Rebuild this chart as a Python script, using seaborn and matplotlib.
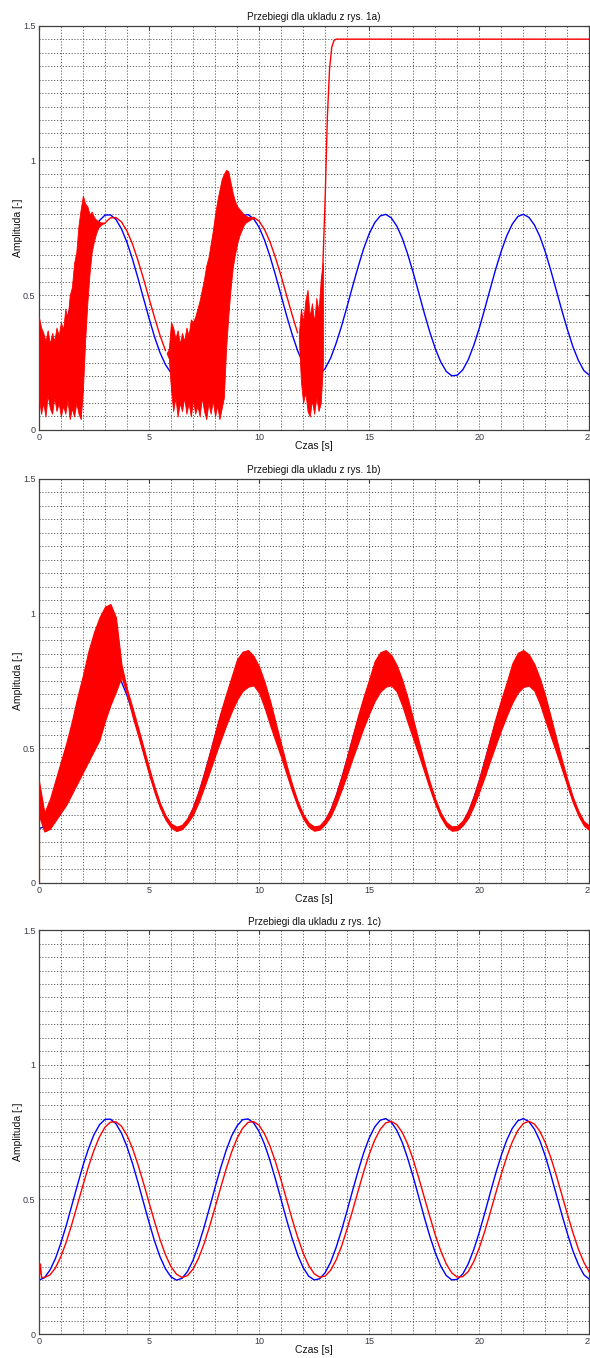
import numpy as np
import pandas as pd
import matplotlib
matplotlib.use("Agg")
import matplotlib.pyplot as plt
import seaborn as sns
from matplotlib.ticker import MultipleLocator, FixedLocator, FixedFormatter

# ---------------- data ----------------
t = np.arange(101) * 0.25  # time grid [s]

blue = [0.200, 0.209, 0.237, 0.280, 0.338, 0.405, 0.479, 0.553, 0.625, 0.688,
        0.740, 0.777, 0.797, 0.798, 0.781, 0.746, 0.696, 0.634, 0.563, 0.489,
        0.415, 0.346, 0.287, 0.242, 0.212, 0.200, 0.207, 0.232, 0.274, 0.330,
        0.396, 0.469, 0.544, 0.616, 0.681, 0.735, 0.773, 0.796, 0.799, 0.784,
        0.752, 0.704, 0.643, 0.573, 0.499, 0.424, 0.355, 0.294, 0.247, 0.215,
        0.201, 0.205, 0.228, 0.267, 0.322, 0.387, 0.459, 0.534, 0.606, 0.673,
        0.728, 0.769, 0.794, 0.800, 0.787, 0.757, 0.712, 0.652, 0.583, 0.509,
        0.434, 0.364, 0.302, 0.252, 0.217, 0.201, 0.203, 0.223, 0.261, 0.314,
        0.378, 0.450, 0.525, 0.598, 0.664, 0.721, 0.764, 0.792, 0.800, 0.789,
        0.761, 0.718, 0.660, 0.591, 0.517, 0.443, 0.373, 0.309, 0.258, 0.220,
        0.203]

red_c = [0.219, 0.210, 0.219, 0.245, 0.288, 0.343, 0.409, 0.480, 0.552, 0.621,
         0.682, 0.732, 0.768, 0.787, 0.788, 0.772, 0.738, 0.690, 0.629, 0.561,
         0.489, 0.418, 0.351, 0.294, 0.250, 0.222, 0.210, 0.217, 0.241, 0.281,
         0.335, 0.399, 0.470, 0.542, 0.612, 0.675, 0.727, 0.764, 0.786, 0.789,
         0.775, 0.743, 0.697, 0.638, 0.571, 0.499, 0.427, 0.360, 0.301, 0.255,
         0.224, 0.211, 0.215, 0.237, 0.275, 0.327, 0.391, 0.460, 0.532, 0.603,
         0.667, 0.720, 0.760, 0.784, 0.790, 0.778, 0.749, 0.705, 0.647, 0.580,
         0.508, 0.437, 0.368, 0.309, 0.260, 0.227, 0.211, 0.213, 0.232, 0.269,
         0.320, 0.382, 0.452, 0.524, 0.594, 0.659, 0.714, 0.756, 0.782, 0.790,
         0.780, 0.753, 0.710, 0.655, 0.588, 0.517, 0.445, 0.377, 0.315, 0.266,
         0.229]

# panel c: start-up transient of the red signal
red_c_start_t = [0.0, 0.0, 0.03, 0.07, 0.12]
red_c_start_y = [0.0, 0.27, 0.22, 0.26, 0.21]

# panel a: noisy parts of the red signal (envelopes)
noise1_t = [round(0.1 * i, 2) for i in range(31)]          # 0.0 .. 3.0
noise1_lo = [0.12, 0.06, 0.10, 0.05, 0.13, 0.08, 0.06, 0.12, 0.07, 0.10,
             0.05, 0.09, 0.06, 0.11, 0.04, 0.08, 0.05, 0.10, 0.06, 0.04,
             0.15, 0.33, 0.47, 0.58, 0.66, 0.70, 0.73, 0.75, 0.76, 0.765, 0.768]
noise1_hi = [0.42, 0.38, 0.36, 0.33, 0.37, 0.32, 0.36, 0.33, 0.38, 0.35,
             0.40, 0.37, 0.45, 0.41, 0.50, 0.53, 0.62, 0.66, 0.76, 0.82,
             0.87, 0.84, 0.83, 0.80, 0.81, 0.79, 0.78, 0.775, 0.77, 0.77, 0.768]

noise2_t = [round(5.8 + 0.1 * i, 2) for i in range(41)]    # 5.8 .. 9.8
noise2_lo = [0.285, 0.265, 0.15, 0.07, 0.12, 0.05, 0.10, 0.07, 0.12, 0.06,
             0.10, 0.05, 0.11, 0.06, 0.09, 0.05, 0.12, 0.07, 0.04, 0.10,
             0.06, 0.11, 0.05, 0.09, 0.04, 0.08, 0.12, 0.30, 0.42, 0.52,
             0.60, 0.65, 0.69, 0.72, 0.74, 0.76, 0.77, 0.775, 0.78, 0.785, 0.785]
noise2_hi = [0.285, 0.30, 0.40, 0.38, 0.34, 0.37, 0.32, 0.36, 0.33, 0.38,
             0.35, 0.41, 0.40, 0.42, 0.45, 0.48, 0.52, 0.56, 0.61, 0.64,
             0.69, 0.74, 0.80, 0.85, 0.89, 0.93, 0.95, 0.965, 0.96, 0.92,
             0.88, 0.85, 0.83, 0.82, 0.81, 0.80, 0.795, 0.79, 0.79, 0.79, 0.785]

noise3_t = [round(11.8 + 0.1 * i, 2) for i in range(12)]   # 11.8 .. 12.9
noise3_lo = [0.35, 0.18, 0.10, 0.14, 0.07, 0.05, 0.11, 0.06, 0.12, 0.07, 0.10, 0.25]
noise3_hi = [0.35, 0.45, 0.40, 0.48, 0.52, 0.42, 0.47, 0.40, 0.49, 0.44, 0.56, 0.62]

step_t = [12.8, 12.9, 13.0, 13.1, 13.2, 13.3, 13.4, 13.5, 25.0]
step_y = [0.45, 0.62, 0.86, 1.16, 1.34, 1.42, 1.445, 1.45, 1.45]

# panel b: envelope of the red (oscillating) signal
red_b_lo = [0.25, 0.19, 0.20, 0.23, 0.26, 0.29, 0.33, 0.37, 0.41, 0.45,
            0.49, 0.53, 0.60, 0.66, 0.71, 0.765, 0.70, 0.618, 0.548, 0.476,
            0.403, 0.336, 0.278, 0.234, 0.204, 0.192, 0.199, 0.222, 0.252, 0.298,
            0.353, 0.411, 0.471, 0.528, 0.584, 0.635, 0.680, 0.712, 0.728, 0.733,
            0.705, 0.650, 0.585, 0.525, 0.466, 0.402, 0.340, 0.283, 0.238, 0.207,
            0.193, 0.197, 0.218, 0.247, 0.292, 0.346, 0.403, 0.463, 0.520, 0.577,
            0.628, 0.675, 0.709, 0.728, 0.733, 0.710, 0.658, 0.594, 0.534, 0.475,
            0.412, 0.349, 0.291, 0.243, 0.209, 0.193, 0.195, 0.213, 0.241, 0.285,
            0.338, 0.395, 0.455, 0.513, 0.569, 0.621, 0.669, 0.706, 0.727, 0.732,
            0.713, 0.664, 0.602, 0.542, 0.483, 0.421, 0.358, 0.298, 0.249, 0.212,
            0.195]
red_b_hi = [0.38, 0.26, 0.31, 0.38, 0.45, 0.52, 0.60, 0.69, 0.77, 0.86,
            0.93, 0.985, 1.025, 1.035, 0.985, 0.81, 0.72, 0.650, 0.578, 0.503,
            0.428, 0.357, 0.296, 0.250, 0.220, 0.208, 0.215, 0.240, 0.282, 0.339,
            0.406, 0.480, 0.557, 0.632, 0.700, 0.765, 0.830, 0.858, 0.864, 0.842,
            0.803, 0.745, 0.675, 0.595, 0.515, 0.436, 0.365, 0.303, 0.255, 0.223,
            0.209, 0.213, 0.236, 0.275, 0.331, 0.397, 0.470, 0.547, 0.622, 0.692,
            0.756, 0.823, 0.856, 0.864, 0.846, 0.808, 0.753, 0.685, 0.606, 0.525,
            0.446, 0.374, 0.311, 0.260, 0.225, 0.209, 0.211, 0.231, 0.269, 0.323,
            0.388, 0.461, 0.538, 0.613, 0.682, 0.746, 0.815, 0.854, 0.864, 0.848,
            0.812, 0.759, 0.693, 0.614, 0.534, 0.456, 0.383, 0.318, 0.266, 0.228,
            0.211]

x_ticks = [0, 5, 10, 15, 20, 25]
x_labels = ['0', '5', '10', '15', '20', '25']
y_ticks = [0, 0.5, 1, 1.5]
y_labels = ['0', '0.5', '1', '1.5']
titles = ['Przebiegi dla ukladu z rys. 1a)',
          'Przebiegi dla ukladu z rys. 1b)',
          'Przebiegi dla ukladu z rys. 1c)']

# ---------------- drawing ----------------
sns.set_style("white")
plt.rcParams['font.family'] = ['Liberation Sans', 'DejaVu Sans']

BLUE = '#0000ff'
RED = '#ff0000'
LW = 1.0

fig = plt.figure(figsize=(5.9, 13.58), dpi=100)
positions = [(0.0659, 0.6834, 0.9331, 0.2977),
             (0.0659, 0.3500, 0.9331, 0.2974),
             (0.0659, 0.01767, 0.9331, 0.2974)]
axes = [fig.add_axes(p) for p in positions]

df_blue = pd.DataFrame({'t': t, 'y': blue})


def line(ax, x, y, color, lw=LW, alpha=1.0, z=3):
    sns.lineplot(x=list(x), y=list(y), ax=ax, color=color, lw=lw,
                 estimator=None, sort=False, alpha=alpha, zorder=z)


# panel a
ax = axes[0]
line(ax, df_blue.t, df_blue.y, BLUE, z=2)
for nt, lo, hi in [(noise1_t, noise1_lo, noise1_hi),
                   (noise2_t, noise2_lo, noise2_hi),
                   (noise3_t, noise3_lo, noise3_hi)]:
    ax.fill_between(nt, lo, hi, color=RED, lw=0.6, edgecolor=RED, zorder=3)
line(ax, t[12:24], red_c[12:24], RED)
line(ax, t[39:48], red_c[39:48], RED)
line(ax, step_t, step_y, RED)

# panel b
ax = axes[1]
line(ax, df_blue.t, df_blue.y, BLUE, z=2)
ax.fill_between(t, red_b_lo, red_b_hi, color=RED, lw=0.8, edgecolor=RED, zorder=3)
line(ax, [0, 0], [0, red_b_lo[0]], RED, alpha=0.45)

# panel c
ax = axes[2]
line(ax, df_blue.t, df_blue.y, BLUE, z=2)
line(ax, red_c_start_t + list(t[1:]), red_c_start_y + red_c[1:], RED)

for ax, title in zip(axes, titles):
    ax.set_xlim(0, 25)
    ax.set_ylim(0, 1.5)
    ax.xaxis.set_major_locator(FixedLocator(x_ticks))
    ax.xaxis.set_major_formatter(FixedFormatter(x_labels))
    ax.yaxis.set_major_locator(FixedLocator(y_ticks))
    ax.yaxis.set_major_formatter(FixedFormatter(y_labels))
    ax.xaxis.set_minor_locator(MultipleLocator(1))
    ax.yaxis.set_minor_locator(MultipleLocator(0.05))
    ax.grid(which='both', color='#606060', linestyle=(0, (1.2, 1.8)), linewidth=0.7)
    ax.set_axisbelow(True)
    ax.tick_params(which='major', direction='in', length=3, width=0.8,
                   top=True, right=True, labelsize=6.5, labelcolor='#3a3a4a',
                   color='#404040', pad=2.5)
    ax.tick_params(which='minor', length=0)
    for s in ax.spines.values():
        s.set_color('#404040')
        s.set_linewidth(0.9)
        s.set_visible(True)
    ax.set_title(title, fontsize=7.2, pad=4, color='#111111')
    ax.set_xlabel('Czas [s]', fontsize=7.5, color='#111111')
    ax.set_ylabel('Amplituda [-]', fontsize=7.5, color='#111111')
    ax.xaxis.set_label_coords(0.5, -0.027)
    ax.yaxis.set_label_coords(-0.029, 0.5)

fig.savefig('out.png', dpi=100)
